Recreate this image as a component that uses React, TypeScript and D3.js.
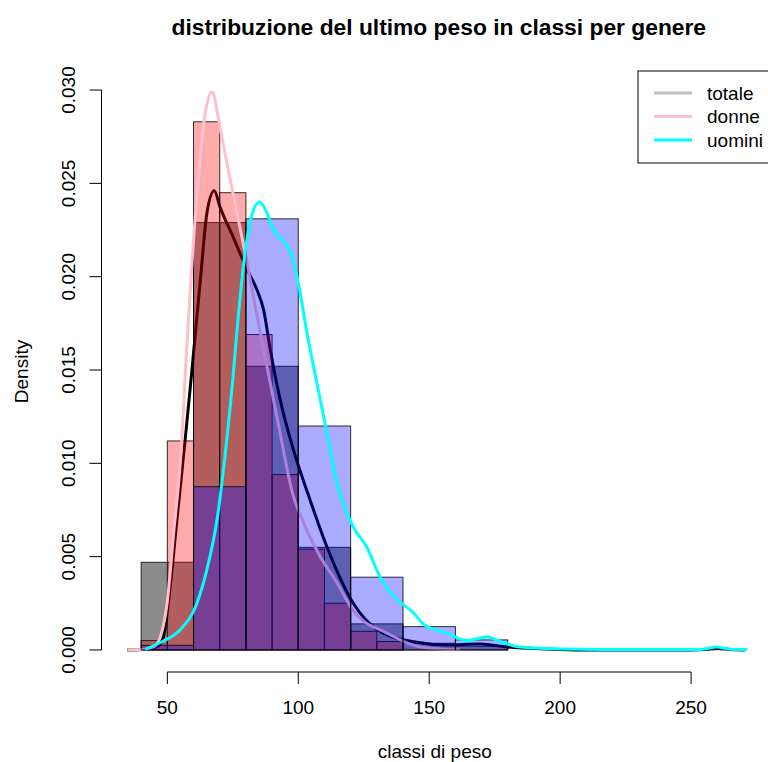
import React, { useEffect, useRef } from 'react';
import * as d3 from 'd3';

// histogram breaks and densities
const totaleBreaks = [40, 60, 80, 100, 120, 140, 160, 180];
const totaleDensity = [0.0047, 0.0229, 0.0152, 0.0055, 0.0014, 0.00036, 0.0002];

const donneBreaks = [40, 50, 60, 70, 80, 90, 100, 110, 120, 130, 140];
const donneDensity = [0.0005, 0.0112, 0.0283, 0.0245, 0.0169, 0.0094, 0.0054, 0.0025, 0.001, 0.00045];

const uominiBreaks = [40, 60, 80, 100, 120, 140, 160, 180];
const uominiDensity = [0.00025, 0.00875, 0.0231, 0.012, 0.0039, 0.00125, 0.00054];

// kernel density curves
const totaleKx = [34.6, 40, 46.1, 48.5, 51.1, 53.7, 56.9, 59.4, 62.6, 65.1, 67.9, 70.2, 75.2, 80.4, 84.2, 86.8, 89.3, 93.1, 98.2, 104.6, 111.0, 121.0, 130.0, 143.9, 156.8, 169.5, 179.7, 194.9, 207.6, 249.6, 255.3, 260.3, 264.9, 270.6];
const totaleKy = [0, 0.00003, 0.00018, 0.0007, 0.0034, 0.007, 0.0114, 0.015, 0.0198, 0.0234, 0.0246, 0.0237, 0.0221, 0.0204, 0.0193, 0.0182, 0.0161, 0.0134, 0.0107, 0.008, 0.0055, 0.0025, 0.0011, 0.00044, 0.00027, 0.00032, 0.00016, 0.00005, 0, 0, 0.00002, 0.00008, 0.00002, 0];

const donneKx = [34.7, 40.0, 44.7, 47.3, 49.9, 52.3, 55.6, 56.9, 59.4, 61.8, 64.5, 67.1, 70.2, 74.0, 79.8, 85.5, 89.3, 93.1, 97.6, 102.7, 108.4, 114.8, 121.0, 133.9, 146.6, 161.8];
const donneKy = [0, 0.00002, 0.00016, 0.0007, 0.0025, 0.0061, 0.0114, 0.015, 0.0207, 0.0252, 0.0288, 0.0299, 0.0279, 0.0252, 0.0212, 0.017, 0.0143, 0.0116, 0.0085, 0.0066, 0.005, 0.0036, 0.0021, 0.0009, 0.00016, 0];

const uominiKx = [41.6, 47.3, 55.0, 61.3, 65.1, 69.0, 72.8, 75.2, 76.6, 79.0, 81.7, 85.2, 88.1, 90.6, 94.4, 97.6, 100.1, 103.3, 107.1, 111.0, 114.8, 121.0, 126.2, 131.3, 136.3, 143.9, 147.7, 156.8, 164.4, 172.0, 178.2, 184.7, 201.1, 215.3, 253.4, 259.8, 264.9, 271.4];
const uominiKy = [0.00003, 0.0004, 0.0011, 0.0025, 0.0043, 0.007, 0.0114, 0.0148, 0.0171, 0.0205, 0.023, 0.024, 0.0234, 0.0225, 0.0219, 0.0211, 0.0196, 0.017, 0.0143, 0.0116, 0.0089, 0.0066, 0.0055, 0.0039, 0.0029, 0.002, 0.0014, 0.0009, 0.0005, 0.0007, 0.0004, 0.00016, 0.00005, 0.00003, 0.00003, 0.00016, 0.00004, 0.00003];

const xTicks = [50, 100, 150, 200, 250];
const yTicks = [0, 0.005, 0.01, 0.015, 0.02, 0.025, 0.03];
const legendLabels = ['totale', 'donne', 'uomini'];
const legendColors = ['#bebebe', '#ffc0cb', '#00ffff'];

const FONT = '"Liberation Sans", Arial, Helvetica, sans-serif';

function App() {
    const svgRef = useRef<SVGSVGElement>(null);

    useEffect(() => {
        const width = 768;
        const height = 762;
        const plot = { left: 101.5, right: 772, top: 71, bottom: 672 };

        const svg = d3.select(svgRef.current);
        svg.selectAll('*').remove();

        const x = d3.scaleLinear().domain([24.86, 280.9]).range([plot.left, plot.right]);
        const y = d3.scaleLinear().domain([-0.00118, 0.03102]).range([plot.bottom, plot.top]);

        svg.append('rect').attr('width', width).attr('height', height).attr('fill', 'white');

        const drawHist = (breaks: number[], dens: number[], fill: string) => {
            svg.append('g')
                .selectAll('rect')
                .data(dens)
                .enter()
                .append('rect')
                .attr('x', (d, i) => x(breaks[i]))
                .attr('y', d => y(d))
                .attr('width', (d, i) => x(breaks[i + 1]) - x(breaks[i]))
                .attr('height', d => y(0) - y(d))
                .attr('fill', fill)
                .attr('stroke', '#000')
                .attr('stroke-opacity', 0.8)
                .attr('stroke-width', 1);
        };

        const line = d3.line<[number, number]>()
            .x(d => x(d[0]))
            .y(d => y(d[1]))
            .curve(d3.curveMonotoneX);

        const drawDensity = (xs: number[], ys: number[], color: string) => {
            const pts = xs.map((v, i) => [v, ys[i]] as [number, number]);
            svg.append('path')
                .attr('d', line(pts))
                .attr('fill', 'none')
                .attr('stroke', color)
                .attr('stroke-width', 3)
                .attr('stroke-linejoin', 'round');
        };

        // same order as the R calls: hist, lines, hist, lines...
        drawHist(totaleBreaks, totaleDensity, 'rgba(0,0,0,0.45)');
        drawDensity(totaleKx, totaleKy, '#000000');
        drawHist(donneBreaks, donneDensity, 'rgba(255,0,0,0.33)');
        drawDensity(donneKx, donneKy, '#ffc0cb');
        drawHist(uominiBreaks, uominiDensity, 'rgba(0,0,255,0.33)');
        drawDensity(uominiKx, uominiKy, '#00ffff');

        // x axis
        const xa = svg.append('g');
        xa.append('line')
            .attr('x1', x(xTicks[0])).attr('x2', x(xTicks[xTicks.length - 1]))
            .attr('y1', plot.bottom).attr('y2', plot.bottom)
            .attr('stroke', '#000');
        xTicks.forEach(t => {
            xa.append('line')
                .attr('x1', x(t)).attr('x2', x(t))
                .attr('y1', plot.bottom).attr('y2', plot.bottom + 12)
                .attr('stroke', '#000');
            xa.append('text')
                .attr('x', x(t)).attr('y', plot.bottom + 42)
                .attr('text-anchor', 'middle')
                .style('font-family', FONT).style('font-size', '19px')
                .text(t);
        });

        // y axis
        const ya = svg.append('g');
        ya.append('line')
            .attr('x1', plot.left).attr('x2', plot.left)
            .attr('y1', y(yTicks[0])).attr('y2', y(yTicks[yTicks.length - 1]))
            .attr('stroke', '#000');
        yTicks.forEach(t => {
            ya.append('line')
                .attr('x1', plot.left - 12).attr('x2', plot.left)
                .attr('y1', y(t)).attr('y2', y(t))
                .attr('stroke', '#000');
            ya.append('text')
                .attr('transform', `translate(75, ${y(t)}) rotate(-90)`)
                .attr('text-anchor', 'middle')
                .style('font-family', FONT).style('font-size', '19px')
                .text(d3.format('.3f')(t));
        });

        // titles
        svg.append('text')
            .attr('x', (plot.left + plot.right) / 2 + 2).attr('y', 35)
            .attr('text-anchor', 'middle')
            .style('font-family', FONT).style('font-size', '22.8px').style('font-weight', 'bold')
            .text('distribuzione del ultimo peso in classi per genere');
        svg.append('text')
            .attr('x', (plot.left + plot.right) / 2 - 2).attr('y', 758)
            .attr('text-anchor', 'middle')
            .style('font-family', FONT).style('font-size', '19px')
            .text('classi di peso');
        svg.append('text')
            .attr('transform', `translate(28, ${(plot.top + plot.bottom) / 2}) rotate(-90)`)
            .attr('text-anchor', 'middle')
            .style('font-family', FONT).style('font-size', '19px')
            .text('Density');

        // legend
        const lg = svg.append('g');
        lg.append('rect')
            .attr('x', 638).attr('y', plot.top)
            .attr('width', plot.right - 638).attr('height', 92)
            .attr('fill', 'white').attr('stroke', '#000');
        legendLabels.forEach((lab, i) => {
            const ly = 93 + i * 23.5;
            lg.append('line')
                .attr('x1', 654).attr('x2', 692)
                .attr('y1', ly).attr('y2', ly)
                .attr('stroke', legendColors[i]).attr('stroke-width', 3);
            lg.append('text')
                .attr('x', 707).attr('y', ly)
                .attr('dominant-baseline', 'central')
                .style('font-family', FONT).style('font-size', '19px')
                .text(lab);
        });
    }, []);

    return (
        <svg ref={svgRef} width={768} height={762}
            style={{ position: 'absolute', left: 0, top: 0, display: 'block' }} />
    );
}

export default App;
